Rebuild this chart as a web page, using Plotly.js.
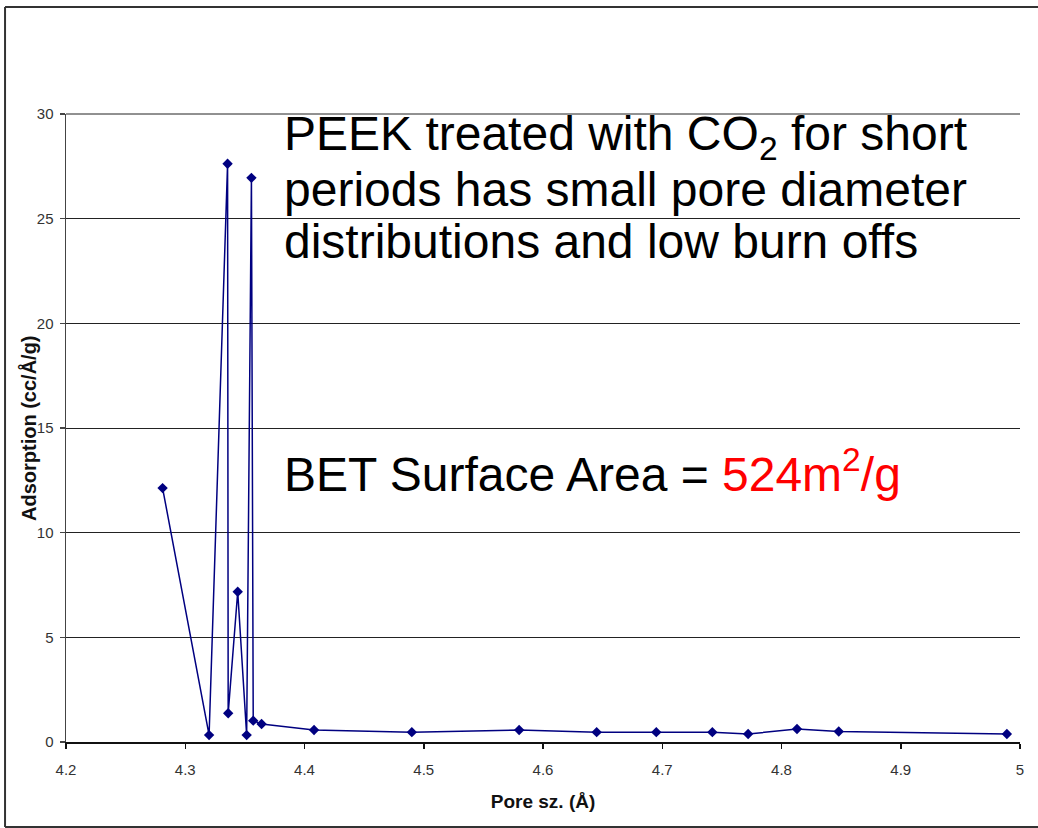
<!DOCTYPE html>
<html>
<head>
<meta charset="utf-8">
<script src="https://cdn.plot.ly/plotly-3.0.1.min.js"></script>
<style>
  html, body { margin: 0; padding: 0; background: #ffffff; overflow: hidden; }
  #chart { width: 1038px; height: 828px; }
</style>
</head>
<body>
<div id="chart"></div>
<script>
// Pore size (Å)
const poreSize = [4.281, 4.320, 4.3355, 4.336, 4.344, 4.3515, 4.3555, 4.357, 4.364, 4.408,
                  4.490, 4.580, 4.645, 4.695, 4.742, 4.772, 4.813, 4.848, 4.989];
// Adsorption (cc/Å/g)
const adsorption = [12.13, 0.33, 27.62, 1.37, 7.18, 0.33, 26.95, 1.02, 0.86, 0.57,
                    0.47, 0.57, 0.47, 0.47, 0.47, 0.38, 0.62, 0.50, 0.38];

const xTitle = 'Pore sz. (Å)';
const yTitle = 'Adsorption (cc/Å/g)';
const noteLines = [
  'PEEK treated with CO<sub>2</sub> for short',
  'periods has small pore diameter',
  'distributions and low burn offs'
];
const betText = 'BET Surface Area = <span style="color:#ff0000">524m<sup>2</sup>/g</span>';

const FONT = 'Liberation Sans, Arial, sans-serif';
const NARROW = 'Liberation Sans Narrow, Arial Narrow, Liberation Sans, Arial, sans-serif';

const trace = {
  x: poreSize,
  y: adsorption,
  type: 'scatter',
  mode: 'lines+markers',
  line: { color: '#000080', width: 1.5 },
  marker: { symbol: 'diamond', size: 8, color: '#000080' },
  hoverinfo: 'skip',
  cliponaxis: false
};

const noteY = [0.964, 0.879, 0.797];
const annotations = noteLines.map((t, i) => ({
  text: t, xref: 'paper', yref: 'paper', x: 0.226, y: noteY[i],
  xanchor: 'left', yanchor: 'middle', showarrow: false,
  font: { family: FONT, size: 48, color: '#000000' }
}));
annotations.push({
  text: betText, xref: 'paper', yref: 'paper', x: 0.226, y: 0.432,
  xanchor: 'left', yanchor: 'middle', showarrow: false,
  font: { family: FONT, size: 48, color: '#000000' }
});
annotations.push({
  text: '<b>' + yTitle + '</b>', xref: 'paper', yref: 'paper', x: -0.0398, y: 0.5,
  xanchor: 'center', yanchor: 'middle', textangle: -90, showarrow: false,
  font: { family: FONT, size: 20, color: '#111111' }
});

const layout = {
  width: 1038, height: 828,
  margin: { l: 66, r: 18, t: 114, b: 86 },
  paper_bgcolor: '#ffffff', plot_bgcolor: '#ffffff',
  showlegend: false,
  xaxis: {
    range: [4.2, 5.0], dtick: 0.1, tick0: 4.2,
    showgrid: false, zeroline: false,
    showline: true, linecolor: '#111111', linewidth: 1.5,
    ticks: 'outside', ticklen: 5, tickcolor: '#111111', tickwidth: 1.5,
    ticklabelstandoff: 8,
    tickfont: { family: NARROW, size: 15, color: '#333333' },
    title: { text: '<b>' + xTitle + '</b>', font: { family: NARROW, size: 19, color: '#111111' }, standoff: 18 }
  },
  yaxis: {
    range: [0, 30], dtick: 5, tick0: 0,
    showgrid: true, gridcolor: '#222222', gridwidth: 1,
    zeroline: false,
    showline: true, linecolor: '#444444', linewidth: 1.5,
    ticks: 'outside', ticklen: 5, tickcolor: '#444444', tickwidth: 1.5,
    ticklabelstandoff: 3,
    tickfont: { family: NARROW, size: 15, color: '#333333' }
  },
  shapes: [
    { type: 'line', xref: 'paper', yref: 'paper', x0: -0.0639, x1: -0.0639, y0: -0.1354, y1: 1.1704,
      line: { color: '#333333', width: 2 } },
    { type: 'line', xref: 'paper', yref: 'paper', x0: -0.0639, x1: 1.03, y0: 1.1704, y1: 1.1704,
      line: { color: '#333333', width: 2 } },
    { type: 'line', xref: 'paper', yref: 'paper', x0: -0.0639, x1: 1.03, y0: -0.1354, y1: -0.1354,
      line: { color: '#333333', width: 2 } },
    { type: 'line', xref: 'paper', yref: 'paper', x0: 0, x1: 1, y0: 1, y1: 1,
      line: { color: '#222222', width: 1 } }
  ],
  annotations: annotations
};

Plotly.newPlot('chart', [trace], layout, { staticPlot: true, displayModeBar: false });
</script>
</body>
</html>
